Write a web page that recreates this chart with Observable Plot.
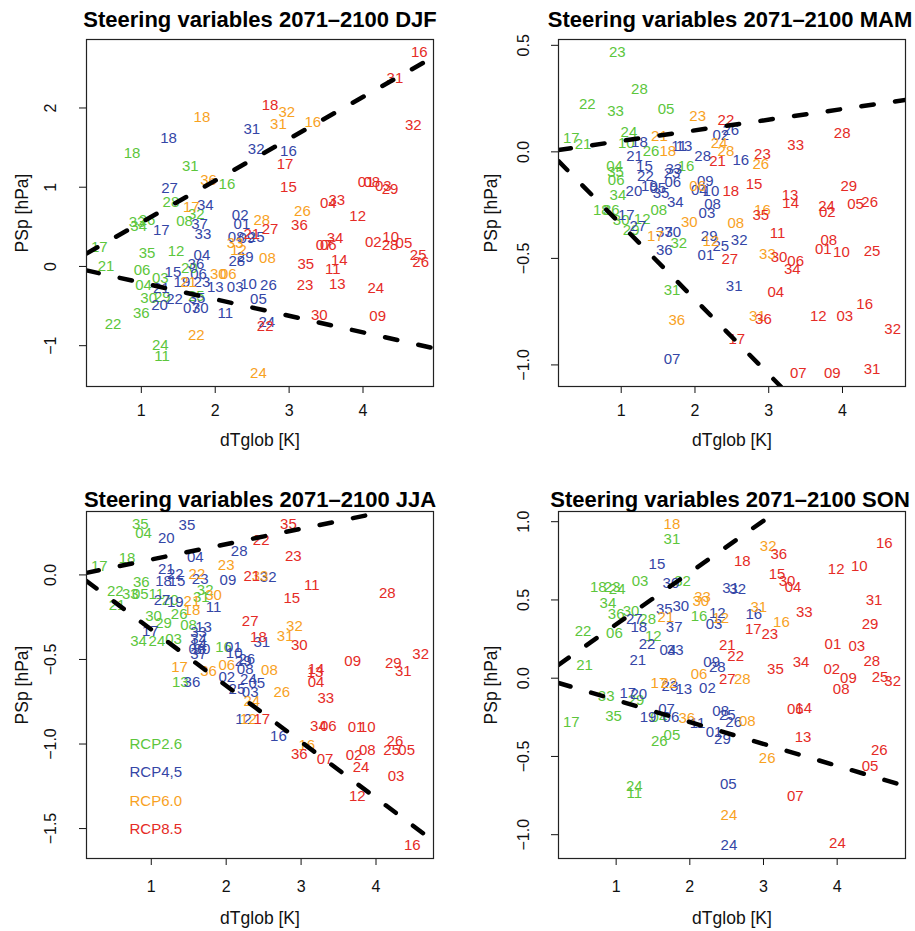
<!DOCTYPE html>
<html><head><meta charset="utf-8">
<script src="https://cdn.jsdelivr.net/npm/d3@7"></script>
<script src="https://cdn.jsdelivr.net/npm/@observablehq/plot@0.6"></script>
<style>
body{margin:0;background:#fff;}
#wrap{position:relative;width:915px;height:931px;overflow:hidden;background:#fff;}
#wrap svg{position:absolute;}
</style></head><body><div id="wrap"></div>
<script>
// ---------- data: [model id, dTglob (K), PSp (hPa)] ----------
const scenarios = ["RCP2.6", "RCP4,5", "RCP6.0", "RCP8.5"];
const scenarioColors = ["#5CC63C", "#3446A6", "#F8A21F", "#E52B26"];
const xTicks = [1, 2, 3, 4];

const djf26 = [["18",0.874,1.434],["31",1.662,1.261],["16",2.158,1.043],["28",1.401,0.811],["32",1.743,0.656],["08",1.585,0.567],["33",0.942,0.559],["26",1.077,0.589],["34",0.964,0.508],["17",0.432,0.243],["35",1.077,0.168],["12",1.469,0.189],["21",0.523,0.0],["06",1.009,-0.042],["20",1.649,-0.025],["03",1.257,-0.142],["04",1.031,-0.240],["30",1.099,-0.404],["29",1.284,-0.391],["25",1.743,-0.378],["36",1.0,-0.596],["22",0.618,-0.735],["24",1.257,-0.996],["11",1.280,-1.135]];
const djf45 = [["18",1.369,1.623],["31",2.496,1.728],["32",2.554,1.484],["16",2.991,1.450],["27",1.382,0.992],["34",1.865,0.769],["37",1.788,0.530],["33",1.834,0.404],["17",1.270,0.454],["02",2.338,0.643],["01",2.361,0.538],["08",2.284,0.366],["09",2.428,0.362],["25",2.554,0.366],["28",2.293,0.067],["29",2.405,0.117],["04",1.820,0.139],["36",1.739,0.034],["06",1.774,-0.092],["15",1.428,-0.072],["19",1.550,-0.198],["23",1.820,-0.198],["13",2.0,-0.261],["03",2.270,-0.261],["10",2.450,-0.227],["26",2.720,-0.231],["21",1.270,-0.274],["20",1.247,-0.483],["22",1.450,-0.407],["35",1.753,-0.400],["07",1.676,-0.521],["30",1.797,-0.521],["11",2.135,-0.584],["05",2.585,-0.407],["24",2.699,-0.702]];
const djf60 = [["18",1.820,1.883],["32",2.969,1.946],["31",2.855,1.791],["16",3.320,1.820],["36",1.909,1.093],["17",1.676,0.748],["28",2.631,0.589],["26",3.180,0.694],["33",2.270,0.294],["12",2.315,0.202],["08",2.707,0.101],["30",2.041,-0.101],["06",2.176,-0.101],["21",1.639,-0.198],["22",1.743,-0.870],["24",2.585,-1.353]];
const djf85 = [["16",4.761,2.702],["31",4.432,2.380],["18",2.743,2.030],["32",4.680,1.778],["17",2.946,1.295],["15",2.991,1.0],["01",4.041,1.063],["08",4.118,1.063],["03",4.274,1.013],["29",4.365,0.971],["04",3.531,0.803],["33",3.645,0.832],["12",3.928,0.631],["27",2.743,0.467],["36",3.139,0.517],["21",2.496,0.412],["34",3.622,0.362],["07",3.473,0.265],["06",3.531,0.265],["02",4.139,0.306],["10",4.374,0.369],["28",4.365,0.265],["05",4.554,0.299],["25",4.747,0.139],["26",4.780,0.054],["35",3.226,0.025],["14",3.680,0.076],["11",3.591,-0.029],["23",3.216,-0.240],["13",3.653,-0.218],["24",4.172,-0.269],["30",3.409,-0.618],["09",4.199,-0.627],["22",2.676,-0.757]];

const mam26 = [["23",0.946,0.467],["28",1.247,0.294],["22",0.541,0.224],["33",0.923,0.189],["05",1.608,0.202],["17",0.324,0.064],["21",0.482,0.038],["24",1.104,0.092],["10",1.068,0.041],["26",1.405,0.005],["04",0.909,-0.069],["35",0.923,-0.097],["06",0.932,-0.135],["16",1.878,-0.069],["34",0.955,-0.202],["18",0.730,-0.275],["36",0.865,-0.272],["08",1.509,-0.272],["30",1.0,-0.319],["12",1.284,-0.314],["29",1.135,-0.366],["32",1.780,-0.431],["31",1.689,-0.650]];
const mam45 = [["18",1.247,0.045],["11",1.784,0.028],["13",1.851,0.028],["28",2.104,-0.019],["21",1.180,-0.019],["15",1.315,-0.069],["22",1.328,-0.116],["33",1.712,-0.081],["23",1.689,-0.100],["06",1.699,-0.144],["20",1.172,-0.186],["19",1.382,-0.163],["05",1.496,-0.170],["35",1.541,-0.194],["04",2.058,-0.181],["09",2.139,-0.139],["10",2.216,-0.186],["34",1.734,-0.238],["08",2.239,-0.244],["03",2.162,-0.287],["17",1.068,-0.295],["27",1.226,-0.350],["37",1.585,-0.378],["30",1.699,-0.378],["29",2.193,-0.394],["25",2.351,-0.441],["36",1.585,-0.463],["01",2.149,-0.483],["26",2.486,0.103],["02",2.351,0.080],["16",2.622,-0.038],["32",2.599,-0.413],["31",2.531,-0.632],["07",1.689,-0.975]];
const mam60 = [["23",2.036,0.169],["21",1.518,0.075],["18",1.631,0.005],["24",2.328,0.041],["28",2.419,0.001],["26",2.892,-0.056],["06",2.036,-0.159],["16",2.915,-0.275],["08",2.554,-0.334],["30",1.923,-0.331],["17",1.464,-0.394],["12",2.216,-0.417],["33",2.982,-0.478],["31",2.847,-0.769],["36",1.753,-0.788]];
const mam85 = [["22",2.419,0.147],["21",2.307,-0.045],["28",3.996,0.088],["33",3.365,0.033],["23",2.915,-0.009],["18",2.486,-0.186],["15",2.801,-0.150],["29",4.085,-0.163],["13",3.288,-0.205],["14",3.297,-0.241],["24",3.784,-0.256],["02",3.793,-0.283],["05",4.176,-0.244],["26",4.369,-0.236],["35",2.892,-0.295],["11",3.118,-0.384],["08",3.815,-0.413],["01",3.739,-0.456],["10",3.986,-0.472],["25",4.401,-0.464],["30",3.139,-0.494],["06",3.365,-0.511],["34",3.320,-0.549],["27",2.473,-0.506],["04",3.095,-0.658],["36",2.928,-0.784],["12",3.672,-0.769],["03",4.031,-0.769],["16",4.301,-0.717],["32",4.680,-0.831],["17",2.568,-0.877],["07",3.401,-1.041],["09",3.861,-1.041],["31",4.401,-1.019]];

const jja26 = [["35",0.853,0.299],["04",0.897,0.244],["17",0.307,0.049],["18",0.676,0.099],["36",0.867,-0.041],["22",0.520,-0.099],["21",0.543,-0.177],["33",0.720,-0.114],["05",0.853,-0.114],["11",1.067,-0.114],["32",1.720,-0.090],["31",1.667,-0.130],["20",1.253,-0.148],["30",1.031,-0.242],["26",1.373,-0.232],["29",1.164,-0.288],["08",1.497,-0.295],["34",0.831,-0.390],["24",1.076,-0.390],["03",1.297,-0.380],["16",1.964,-0.425],["13",1.387,-0.636]];
const jja45 = [["35",1.476,0.295],["20",1.200,0.217],["28",2.173,0.138],["04",1.587,0.106],["21",1.200,0.034],["22",1.320,0.004],["18",1.164,-0.040],["15",1.343,-0.040],["23",1.653,-0.025],["09",2.023,-0.030],["32",2.560,-0.012],["27",1.143,-0.149],["19",1.320,-0.164],["11",1.831,-0.189],["13",1.697,-0.307],["33",1.631,-0.337],["17",0.987,-0.331],["34",1.631,-0.380],["14",1.631,-0.409],["06",1.609,-0.439],["30",1.676,-0.439],["37",1.631,-0.468],["31",2.476,-0.400],["01",2.097,-0.429],["10",2.107,-0.465],["26",2.276,-0.498],["29",2.227,-0.508],["08",2.253,-0.557],["02",2.009,-0.607],["24",2.297,-0.616],["05",2.409,-0.642],["36",1.543,-0.636],["25",2.143,-0.675],["03",2.320,-0.695],["12",2.231,-0.852],["16",2.697,-0.951]];
const jja60 = [["23",2.0,0.059],["22",1.609,0.004],["33",2.453,-0.006],["30",1.831,-0.118],["21",1.543,-0.154],["18",1.543,-0.209],["32",2.911,-0.301],["31",2.787,-0.360],["06",2.009,-0.532],["17",1.377,-0.548],["36",1.764,-0.571],["08",2.577,-0.563],["26",2.743,-0.695],["24",2.343,-0.748],["12",2.297,-0.852],["16",3.076,-1.004]];
const jja85 = [["35",2.831,0.299],["22",2.467,0.205],["23",2.897,0.112],["21",2.343,-0.006],["11",3.143,-0.059],["15",2.876,-0.138],["28",4.151,-0.108],["27",2.320,-0.272],["18",2.431,-0.366],["30",2.977,-0.413],["09",3.689,-0.508],["29",4.231,-0.522],["31",4.364,-0.571],["32",4.596,-0.468],["14",3.2,-0.557],["13",3.187,-0.577],["04",3.2,-0.632],["33",3.329,-0.728],["34",3.231,-0.892],["06",3.364,-0.892],["01",3.733,-0.898],["10",3.884,-0.898],["17",2.476,-0.852],["36",2.977,-1.063],["07",3.320,-1.089],["02",3.707,-1.069],["08",3.884,-1.035],["26",4.253,-0.985],["25",4.209,-1.034],["05",4.409,-1.034],["24",3.8,-1.138],["03",4.267,-1.193],["12",3.751,-1.311],["16",4.484,-1.601]];

const son26 = [["31",1.757,0.890],["03",1.324,0.622],["32",1.901,0.618],["18",0.757,0.580],["23",0.946,0.580],["24",1.014,0.567],["34",0.888,0.480],["36",1.0,0.406],["30",1.203,0.431],["16",2.126,0.395],["28",1.428,0.374],["22",0.550,0.299],["06",0.977,0.289],["12",1.504,0.268],["21",0.572,0.083],["33",0.865,-0.115],["29",1.270,-0.142],["35",0.964,-0.242],["04",1.581,-0.248],["17",0.392,-0.278],["05",1.757,-0.365],["26",1.585,-0.401],["24",1.247,-0.688],["11",1.247,-0.737]];
const son45 = [["15",1.554,0.728],["30",1.743,0.607],["31",2.554,0.573],["32",2.649,0.567],["35",1.653,0.444],["30",1.878,0.459],["12",2.374,0.416],["03",2.328,0.346],["27",1.247,0.374],["18",1.307,0.325],["37",1.788,0.325],["16",2.869,0.406],["22",1.419,0.215],["04",1.703,0.176],["33",1.801,0.176],["21",1.293,0.113],["09",2.297,0.102],["28",2.374,0.072],["02",2.239,-0.066],["23",1.730,-0.051],["13",1.919,-0.070],["17",1.158,-0.094],["20",1.307,-0.100],["07",1.685,-0.199],["19",1.432,-0.248],["06",1.743,-0.248],["11",2.104,-0.285],["08",2.419,-0.210],["25",2.509,-0.236],["26",2.595,-0.280],["01",2.328,-0.348],["29",2.442,-0.390],["05",2.523,-0.677],["24",2.531,-1.070]];
const son60 = [["18",1.757,0.983],["33",2.172,0.516],["30",2.149,0.495],["12",2.419,0.384],["21",1.676,0.389],["32",3.064,0.845],["31",2.936,0.452],["16",3.243,0.359],["06",2.126,0.027],["28",2.712,-0.008],["17",1.581,-0.032],["22",1.716,-0.032],["36",1.959,-0.253],["08",2.780,-0.274],["26",3.050,-0.508],["24",2.531,-0.875]];
const son85 = [["16",4.639,0.862],["36",3.207,0.792],["18",2.712,0.750],["12",3.986,0.699],["10",4.301,0.713],["15",3.185,0.664],["30",3.320,0.618],["04",3.401,0.582],["31",4.5,0.501],["33",3.554,0.420],["29",4.446,0.348],["17",2.861,0.310],["23",3.085,0.278],["01",3.942,0.218],["03",4.266,0.204],["21",2.509,0.210],["22",2.622,0.140],["28",4.469,0.108],["34",3.509,0.102],["35",3.162,0.055],["02",3.928,0.059],["09",4.153,0.002],["08",4.054,-0.072],["25",4.581,0.008],["32",4.753,-0.019],["27",2.509,-0.008],["06",3.432,-0.199],["14",3.545,-0.189],["13",3.536,-0.376],["26",4.572,-0.459],["05",4.446,-0.561],["07",3.432,-0.752],["24",4.004,-1.055]];

// dashed envelope lines: [intercept, slope]
const djfLines = [[0.028, 0.528], [0.004, -0.209]];
const mamLines = [[0.001, 0.050], [0.009, -0.351]];
const jjaLines = [[0.0, 0.091], [0.009, -0.332]];
const sonLines = [[0.013, 0.331], [0.0, -0.140]];

const djfYTicks = [-1, 0, 1, 2];
const mamYTicks = [-1.0, -0.5, 0.0, 0.5];
const jjaYTicks = [-1.5, -1.0, -0.5, 0.0];
const sonYTicks = [-1.0, -0.5, 0.0, 0.5, 1.0];

// ---------- drawing ----------
const FONT = '"Liberation Sans", Arial, Helvetica, sans-serif';
const wrap = document.getElementById("wrap");

function ext(a) { const lo = d3.min(a), hi = d3.max(a), p = (hi - lo) * 0.04; return [lo - p, hi + p]; }
function fmt(v, dec) { const s = Math.abs(v).toFixed(dec); return (v < 0 ? "\u2212" : "") + s; }
function clipLine([a, b], xd, yd) {
  let x0 = xd[0], x1 = xd[1];
  if (b !== 0) {
    const xa = (yd[0] - a) / b, xb = (yd[1] - a) / b;
    const lo = Math.min(xa, xb), hi = Math.max(xa, xb);
    x0 = Math.max(x0, lo); x1 = Math.min(x1, hi);
  }
  return [{x: x0, y: a + b * x0}, {x: x1, y: a + b * x1}];
}

function panel(c) {
  const all = c.series.flat();
  const xd = ext(all.map(r => r[1])), yd = ext(all.map(r => r[2]));
  const lineData = c.lines.flatMap((l, k) => clipLine(l, xd, yd).map(p => ({...p, k})));
  const marks = [
    Plot.axisX({ticks: xTicks, tickSize: 7, tickPadding: c.xPad, fontSize: 16, label: null, tickFormat: d => String(d)}),
    Plot.axisY({ticks: c.yTicks, tickSize: 7, label: null, tickFormat: () => ""}),
    Plot.text(c.yTicks, {frameAnchor: "left", y: d => d, text: d => fmt(d, c.dec), rotate: -90, dx: c.yLabDx, textAnchor: "middle", lineAnchor: "middle", fontSize: 16, fill: "#111"}),
    ...c.series.map((rows, i) => Plot.text(rows, {x: d => d[1], y: d => d[2], text: d => d[0], fill: scenarioColors[i], fontSize: 15, textAnchor: "middle", lineAnchor: "middle"})),
    Plot.line(lineData, {x: "x", y: "y", z: "k", stroke: "#000", strokeWidth: 4.5, strokeDasharray: "12.5,21.5", strokeLinecap: "round", clip: true}),
    Plot.frame({stroke: "#222", strokeWidth: 1.2}),
    Plot.text([c.title], {frameAnchor: "top", dx: c.titleDx, dy: c.titleDy, lineAnchor: "bottom", fontWeight: "bold", fontSize: 22, fill: "#000"}),
    Plot.text(["dTglob [K]"], {frameAnchor: "bottom", dy: c.xTitleDy, lineAnchor: "middle", fontSize: 17.5, fill: "#111"}),
    Plot.text(["PSp [hPa]"], {frameAnchor: "left", dx: c.yTitleDx, rotate: -90, lineAnchor: "middle", textAnchor: "middle", fontSize: 17.5, fill: "#111"})
  ];
  if (c.legend) {
    const dys = [-114.7, -86.3, -57, -29];
    scenarios.forEach((s, i) => marks.push(Plot.text([s], {frameAnchor: "bottom-left", dx: 43, dy: dys[i], textAnchor: "start", lineAnchor: "middle", fontSize: 15, fill: scenarioColors[i]})));
  }
  const svg = Plot.plot({
    width: c.w, height: c.h,
    marginLeft: c.mL, marginRight: c.mR, marginTop: c.mT, marginBottom: c.mB,
    x: {domain: xd}, y: {domain: yd},
    style: {fontFamily: FONT, background: "transparent", color: "#111", overflow: "visible"},
    marks
  });
  svg.style.left = c.left + "px";
  svg.style.top = c.top + "px";
  wrap.appendChild(svg);
}

panel({title: "Steering variables 2071\u20132100 DJF", left: 0, top: 0, w: 457, h: 465, mL: 86, mR: 24, mT: 39, mB: 79,
  yTicks: djfYTicks, dec: 0, lines: djfLines, series: [djf26, djf45, djf60, djf85],
  titleDx: 0, titleDy: -13, xPad: 11, xTitleDy: 54, yLabDx: -36, yTitleDx: -64});
panel({title: "Steering variables 2071\u20132100 MAM", left: 457, top: 0, w: 458, h: 465, mL: 101, mR: 10, mT: 39, mB: 79,
  yTicks: mamYTicks, dec: 1, lines: mamLines, series: [mam26, mam45, mam60, mam85],
  titleDx: -2, titleDy: -13, xPad: 11, xTitleDy: 54, yLabDx: -35, yTitleDx: -67});
panel({title: "Steering variables 2071\u20132100 JJA", left: 0, top: 465, w: 457, h: 466, mL: 86, mR: 24, mT: 46, mB: 73,
  yTicks: jjaYTicks, dec: 1, lines: jjaLines, series: [jja26, jja45, jja60, jja85], legend: true,
  titleDx: 0, titleDy: -5, xPad: 15, xTitleDy: 60, yLabDx: -36, yTitleDx: -64});
panel({title: "Steering variables 2071\u20132100 SON", left: 457, top: 465, w: 458, h: 466, mL: 101, mR: 10, mT: 46, mB: 73,
  yTicks: sonYTicks, dec: 1, lines: sonLines, series: [son26, son45, son60, son85],
  titleDx: -2, titleDy: -5, xPad: 15, xTitleDy: 60, yLabDx: -35, yTitleDx: -67});
</script>
</body></html>
